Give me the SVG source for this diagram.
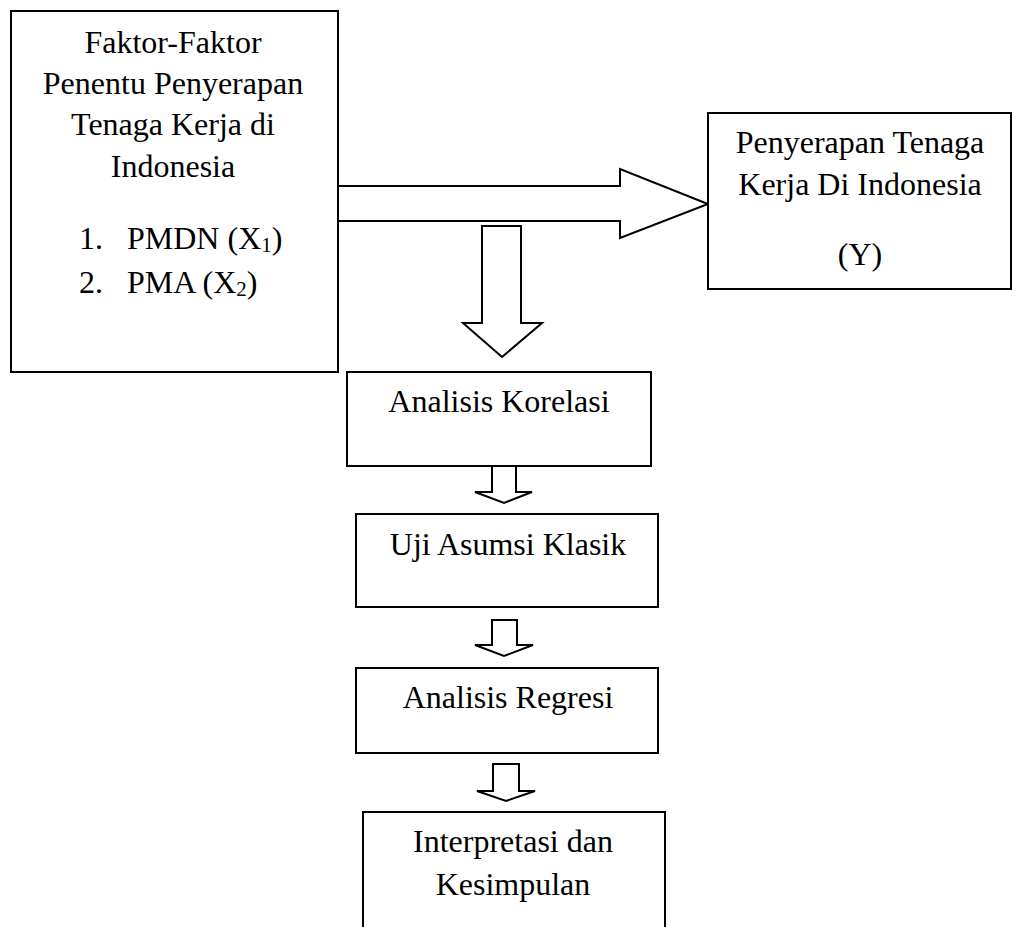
<svg xmlns="http://www.w3.org/2000/svg" width="1018" height="927" viewBox="0 0 1018 927">
<style>
.box{fill:#fff;stroke:#000;stroke-width:2}
.arr{fill:#fff;stroke:#000;stroke-width:2;stroke-linejoin:miter}
text{font-family:"Liberation Serif","Times New Roman",serif;font-size:32px;fill:#000}
.c{text-anchor:middle}
.sub{font-size:21px}
</style>
<rect width="1018" height="927" fill="#fff"/>
<g id="connectors">
<polygon class="arr" points="338,186 620,186 620,169 708,204 620,238 620,221 338,221"/>
<polygon class="arr" points="482,226 521,226 521,323 542,323 502,357 463,323 482,323"/>
<polygon class="arr" points="492,466 516,466 516,492 532,492 504,503 475,492 492,492"/>
<polygon class="arr" points="492,620 517,620 517,645 533,645 504,656 475,645 492,645"/>
<polygon class="arr" points="493,764 519,764 519,791 535,791 506,801 477,791 493,791"/>
</g>
<g id="factors">
<rect class="box" x="11" y="11" width="327" height="361"/>
<text class="c" x="173" y="53">Faktor-Faktor</text>
<text class="c" x="173" y="94">Penentu Penyerapan</text>
<text class="c" x="173" y="135">Tenaga Kerja di</text>
<text class="c" x="173" y="177">Indonesia</text>
<text x="79" y="249">1.</text>
<text x="127" y="249">PMDN (X<tspan class="sub" dy="3">1</tspan><tspan dy="-3">)</tspan></text>
<text x="79" y="293">2.</text>
<text x="127" y="293">PMA (X<tspan class="sub" dy="3">2</tspan><tspan dy="-3">)</tspan></text>
</g>
<g id="absorption">
<rect class="box" x="708" y="113" width="303" height="176"/>
<text class="c" x="860" y="153">Penyerapan Tenaga</text>
<text class="c" x="860" y="195">Kerja Di Indonesia</text>
<text class="c" x="860" y="265">(Y)</text>
</g>
<g id="korelasi">
<rect class="box" x="347" y="372" width="304" height="94"/>
<text class="c" x="499" y="412">Analisis Korelasi</text>
</g>
<g id="asumsi">
<rect class="box" x="356" y="514" width="302" height="93"/>
<text class="c" x="508" y="555">Uji Asumsi Klasik</text>
</g>
<g id="regresi">
<rect class="box" x="356" y="668" width="302" height="85"/>
<text class="c" x="508" y="708">Analisis Regresi</text>
</g>
<g id="kesimpulan">
<rect class="box" x="363" y="812" width="302" height="130"/>
<text class="c" x="513" y="852">Interpretasi dan</text>
<text class="c" x="513" y="895">Kesimpulan</text>
</g>
</svg>
